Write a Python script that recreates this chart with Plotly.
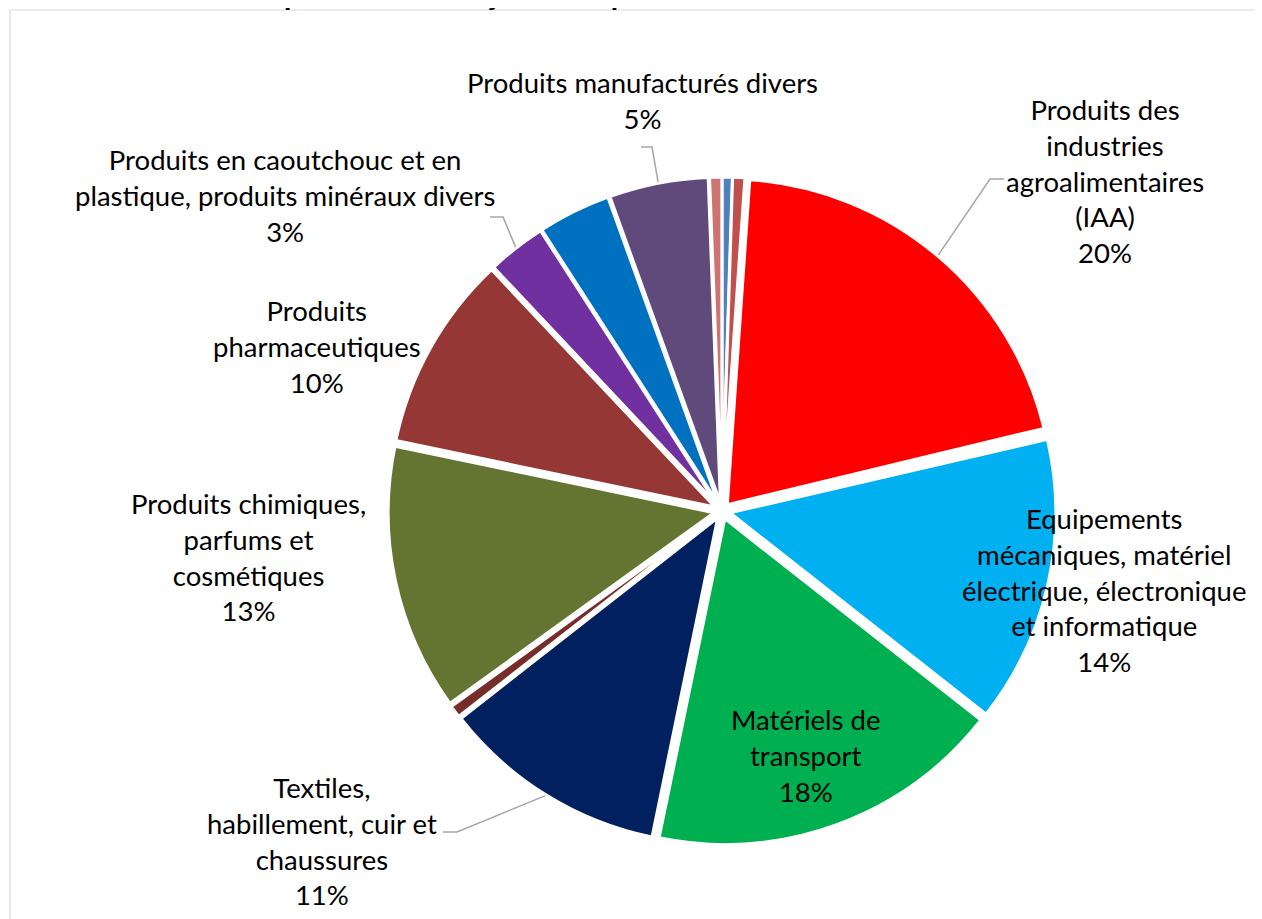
import math
import plotly.graph_objects as go

# ---------------- data ----------------
categories = [
    "Hydrocarbures naturels, produits des industries extractives, électricité, déchets",
    "Produits agricoles, sylvicoles et de la pêche",
    "Produits des industries agroalimentaires (IAA)",
    "Produits pétroliers raffinés et coke",
    "Equipements mécaniques, matériel électrique, électronique et informatique",
    "Matériels de transport",
    "Textiles, habillement, cuir et chaussures",
    "Bois, papier et carton",
    "Produits chimiques, parfums et cosmétiques",
    "Produits pharmaceutiques",
    "Produits en caoutchouc et en plastique, produits minéraux divers",
    "Produits métallurgiques et métalliques",
    "Produits manufacturés divers",
    "Produits divers",
]
values = [0.5, 0.6, 20.1, 0.15, 14.2, 17.6, 11.2, 0.6, 13.2, 9.7, 2.9, 3.6, 4.9, 0.6]
colors = ["#4F81BD", "#C0504D", "#FF0000", "#7F64A8", "#00B0F0", "#00B050", "#002060",
          "#772C2A", "#647532", "#953735", "#7030A0", "#0070C0", "#604A7B", "#CD7371"]
# displayed labels (line breaks as in the chart); None = no label
display_labels = [
    None, None,
    "Produits des<br>industries<br>agroalimentaires<br>(IAA)",
    None,
    "Equipements<br>mécaniques, matériel<br>électrique, électronique<br>et informatique",
    "Matériels de<br>transport",
    "Textiles,<br>habillement, cuir et<br>chaussures",
    None,
    "Produits chimiques,<br>parfums et<br>cosmétiques",
    "Produits<br>pharmaceutiques",
    "Produits en caoutchouc et en<br>plastique, produits minéraux divers",
    None,
    "Produits manufacturés divers",
    None,
]
title_text = "Exportations françaises de produits"

# ---------------- layout constants (pixels, in window coordinates) ----------------
OFF = 8                      # default page margin around the figure
W, H = 1262 - OFF, 919 - OFF
CX, CY, R = 722, 511, 334
PULL = 0.025
FONT = "Lato"
FS = 27.5

# label block centres (pixel) by category index
label_pos = {2: (1105, 181), 4: (1104, 590), 5: (805, 755), 6: (322, 841),
             8: (248, 557), 9: (317, 346), 10: (285, 195), 12: (642, 100)}
# leader lines: elbow and end (pixel) by category index
leaders = {2: ((990, 179), (1004, 179)), 6: ((457, 832), (443, 832)),
           10: ((503, 217), (490, 217)), 12: ((652, 147), (641, 147))}


def px(x):
    return (x - OFF) / W


def py(y):
    return 1 - (y - OFF) / H


fig = go.Figure()
fig.add_trace(go.Pie(
    labels=categories, values=values, sort=False, direction="clockwise", rotation=0,
    marker=dict(colors=colors, line=dict(color="white", width=3)),
    pull=[PULL] * len(values), textinfo="none", hoverinfo="label+percent",
    domain=dict(x=[px(CX - R), px(CX + R)], y=[py(CY + R), py(CY - R)]),
    showlegend=False,
))

total = sum(values)
annotations = []
shapes = []
cum = 0.0
for i, v in enumerate(values):
    a0 = cum / total * 360
    cum += v
    a1 = cum / total * 360
    mid = math.radians((a0 + a1) / 2)
    lab = display_labels[i]
    if lab is not None:
        pct = round(v / total * 100)
        x, y = label_pos[i]
        annotations.append(dict(
            x=px(x), y=py(y), xref="paper", yref="paper", showarrow=False,
            text=f"{lab}<br>{pct}%", align="center", xanchor="center", yanchor="middle",
            font=dict(family=FONT, size=FS, color="#000000")))
    if i in leaders:
        sx = CX + (R + 1) * math.sin(mid)
        sy = CY - (R + 1) * math.cos(mid)
        (ex, ey), (tx, ty) = leaders[i]
        shapes.append(dict(type="path", xref="paper", yref="paper",
                           path=f"M {px(sx)},{py(sy)} L {px(ex)},{py(ey)} L {px(tx)},{py(ty)}",
                           line=dict(color="#A6A6A6", width=1.5)))

# chart area border: only the left and top sides are visible in the page
shapes.append(dict(type="path", xref="paper", yref="paper",
                   path=f"M {px(10)},-0.2 L {px(10)},{py(10)} L 1.2,{py(10)}",
                   line=dict(color="#D9D9D9", width=1.2), layer="below"))

# title (mostly above the visible area)
annotations.append(dict(x=px(486), y=py(13), xref="paper", yref="paper", showarrow=False,
                        text=f"<b>{title_text}</b>", xanchor="center", yanchor="bottom",
                        font=dict(family=FONT, size=30, color="#000000")))

fig.update_layout(
    width=W, height=H, margin=dict(l=0, r=0, t=0, b=0),
    paper_bgcolor="white", plot_bgcolor="white",
    annotations=annotations, shapes=shapes,
)
fig.write_html("out.html")
